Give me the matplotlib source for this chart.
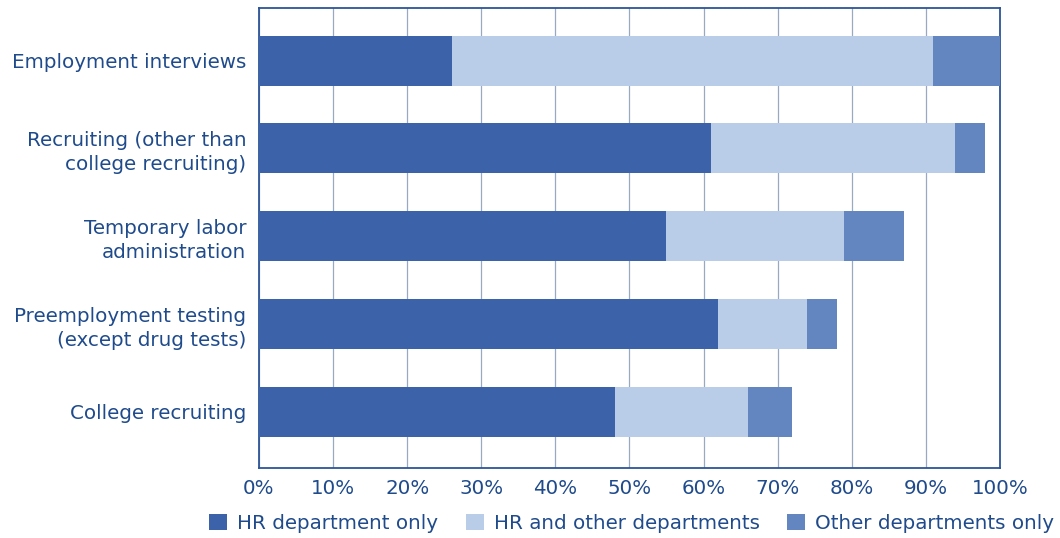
import numpy as np
import matplotlib.pyplot as plt
from matplotlib.patches import Patch

# categories, top to bottom
categories = ['Employment interviews',
              'Recruiting (other than\ncollege recruiting)',
              'Temporary labor\nadministration',
              'Preemployment testing\n(except drug tests)',
              'College recruiting']

# percentages
hr_only = [26, 61, 55, 62, 48]
hr_and_other = [65, 33, 24, 12, 18]
other_only = [9, 4, 8, 4, 6]

series_names = ['HR department only', 'HR and other departments', 'Other departments only']
colors = ['#3c63a9', '#b9cde9', '#6386c1']
text_color = '#1f4b8c'
edge_color = '#2c5596'

plt.rcParams['font.family'] = ['DejaVu Sans']

fig = plt.figure(figsize=(10.6, 5.38), dpi=100)
ax = fig.add_axes([0.2443, 0.1301, 0.699, 0.855])

y = np.arange(len(categories))
left = np.zeros(len(categories))
for vals, c in zip([hr_only, hr_and_other, other_only], colors):
    ax.barh(y, vals, left=left, height=0.57, color=c, zorder=3)
    left += np.array(vals)

ax.set_xlim(0, 100)
ax.set_ylim(4.64, -0.6)
ax.set_xticks(np.arange(0, 101, 10))
ax.set_xticklabels([f'{v}%' for v in range(0, 101, 10)])
ax.set_yticks(y)
ax.set_yticklabels(categories, ha='right', multialignment='right', linespacing=1.3)
ax.tick_params(axis='both', length=0, labelsize=14.3, colors=text_color)
ax.tick_params(axis='x', pad=8)
ax.tick_params(axis='y', pad=9)
ax.grid(axis='x', color='#9aa9c2', linewidth=0.9, zorder=0)

for sp in ax.spines.values():
    sp.set_color(edge_color)
    sp.set_linewidth(1.3)

handles = [Patch(facecolor=c, label=n) for c, n in zip(colors, series_names)]
fig.legend(handles=handles, loc='center', bbox_to_anchor=(0.596, 0.027), ncol=3,
           frameon=False, fontsize=14.3, labelcolor=text_color,
           handlelength=0.9, handleheight=0.9, handletextpad=0.5, columnspacing=1.4)

fig.savefig('out.png', dpi=100)
